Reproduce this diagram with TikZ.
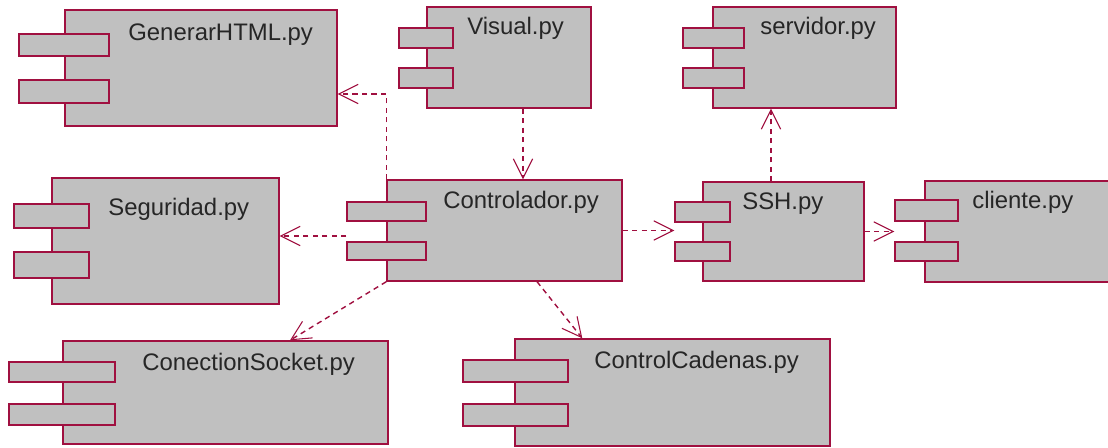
\documentclass[tikz,border=0pt]{standalone}
\usepackage{fontspec}
\setmainfont{Liberation Sans}
\usetikzlibrary{arrows.meta,fit,calc}
\definecolor{borde}{RGB}{160,16,64}
\definecolor{relleno}{RGB}{192,192,192}

\begin{document}
\begin{tikzpicture}[x=0.02cm,y=-0.02cm,
	cuerpo/.style={draw=borde,fill=relleno,line width=0.8pt,inner sep=0pt},
	pestana/.style={draw=borde,fill=relleno,line width=0.8pt,inner sep=0pt},
	nombre/.style={anchor=base west,inner sep=0pt,text=black!85,font=\fontsize{13.6}{16}\selectfont},
	dep/.style={draw=borde,line width=0.8pt,dash pattern=on 3pt off 2.4pt,
		-{Straight Barb[length=11pt,width=11pt,line width=0.6pt]}}]
	%\draw[step=100,very thin,color=gray] (0,0) grid (1108,448);
	\useasboundingbox (0,0) rectangle (1108,448);

	% componentes (cuerpo, dos pestanas, nombre)
	\node[cuerpo,fit={(65,10) (337,126)}] (gen) {};
	\node[pestana,fit={(19,34) (109,56)}] (gen-t1) {};
	\node[pestana,fit={(19,80) (109,103)}] (gen-t2) {};
	\node[nombre] (gen-txt) at (128,41) {GenerarHTML.py};

	\node[cuerpo,fit={(427,7) (591,108)}] (vis) {};
	\node[pestana,fit={(399,28) (453,48)}] (vis-t1) {};
	\node[pestana,fit={(399,68) (453,88)}] (vis-t2) {};
	\node[nombre] (vis-txt) at (467,35) {Visual.py};

	\node[cuerpo,fit={(713,7) (896,108)}] (serv) {};
	\node[pestana,fit={(683,28) (744,48)}] (serv-t1) {};
	\node[pestana,fit={(683,68) (744,88)}] (serv-t2) {};
	\node[nombre] (serv-txt) at (760,35) {servidor.py};

	\node[cuerpo,fit={(52,178) (279,304)}] (seg) {};
	\node[pestana,fit={(14,204) (89,228)}] (seg-t1) {};
	\node[pestana,fit={(14,252) (89,278)}] (seg-t2) {};
	\node[nombre] (seg-txt) at (108,216) {Seguridad.py};

	\node[cuerpo,fit={(387,180) (622,281)}] (ctrl) {};
	\node[pestana,fit={(347,202) (426,221)}] (ctrl-t1) {};
	\node[pestana,fit={(347,242) (426,260)}] (ctrl-t2) {};
	\node[nombre] (ctrl-txt) at (443,209) {Controlador.py};

	\node[cuerpo,fit={(703,182) (864,281)}] (ssh) {};
	\node[pestana,fit={(675,202) (730,222)}] (ssh-t1) {};
	\node[pestana,fit={(675,242) (730,261)}] (ssh-t2) {};
	\node[nombre] (ssh-txt) at (742,210) {SSH.py};

	\node[cuerpo,fit={(925,181) (1120,282)}] (cli) {};
	\node[pestana,fit={(895,200) (958,221)}] (cli-t1) {};
	\node[pestana,fit={(895,242) (958,261)}] (cli-t2) {};
	\node[nombre] (cli-txt) at (972,209) {cliente.py};

	\node[cuerpo,fit={(63,341) (388,444)}] (sock) {};
	\node[pestana,fit={(9,362) (115,382)}] (sock-t1) {};
	\node[pestana,fit={(9,404) (115,425)}] (sock-t2) {};
	\node[nombre] (sock-txt) at (142,371) {ConectionSocket.py};

	\node[cuerpo,fit={(515,339) (830,446)}] (cad) {};
	\node[pestana,fit={(463,360) (568,382)}] (cad-t1) {};
	\node[pestana,fit={(463,404) (568,426)}] (cad-t2) {};
	\node[nombre] (cad-txt) at (594,369) {ControlCadenas.py};

	% dependencias
	\coordinate (gen-in) at ($(gen.east)+(0,26)$);
	\coordinate (vis-out) at ($(vis.south)+(14,0)$);
	\coordinate (seg-in) at ($(seg.east)+(0,-5)$);
	\coordinate (ssh-out) at ($(ssh.north)+(-12.5,0)$);
	\draw[dep] (ctrl.north west) |- (gen-in);
	\draw[dep] (vis-out) -- (vis-out |- ctrl.north);
	\draw[dep] (seg-in -| ctrl-t1.west) -- (seg-in);
	\draw[dep] (ctrl.south west) -- ($(sock.north)+(64.5,0)$);
	\draw[dep] ($(ctrl.south)+(32.5,0)$) -- ($(cad.north west)+(68,0)$);
	\draw[dep] (ctrl.east) -- (ctrl.east -| ssh-t1.west);
	\draw[dep] (ssh-out) -- (ssh-out |- serv.south);
	\draw[dep] (ssh.east) -- (ssh.east -| cli-t1.west);
\end{tikzpicture}
\end{document}
